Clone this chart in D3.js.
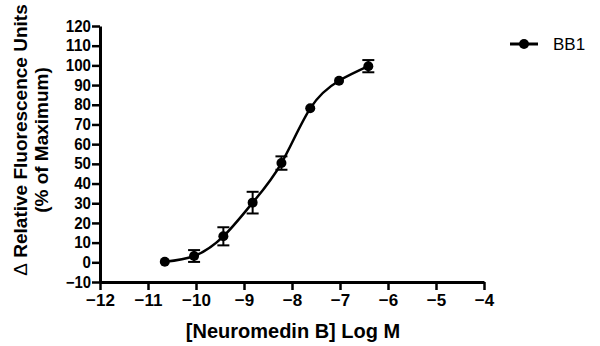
<!DOCTYPE html>
<html>
<head>
<meta charset="utf-8">
<script src="https://cdn.jsdelivr.net/npm/d3@7"></script>
<style>
  body { margin: 0; background: #fff; }
  svg { display: block; font-family: Arial, "Liberation Sans", sans-serif; }
</style>
</head>
<body>
<svg id="chart" width="600" height="346"></svg>
<script>
// concentrations (log M), mean response and SEM
const logDose = [-10.65, -10.04, -9.43, -8.82, -8.22, -7.62, -7.02, -6.41];
const response = [0.3, 3.2, 13.2, 30.3, 50.4, 78.2, 92.2, 99.6];
const sem = [0, 3.0, 4.6, 5.5, 3.4, 0, 0, 3.1];
const xTicks = [-12, -11, -10, -9, -8, -7, -6, -5, -4];
const yTicks = [-10, 0, 10, 20, 30, 40, 50, 60, 70, 80, 90, 100, 110, 120];
const seriesName = 'BB1';

const margin = { top: 26, left: 100 };
const width = 384, height = 256;

const svg = d3.select('#chart');
const g = svg.append('g').attr('transform', `translate(${margin.left},${margin.top})`);

const x = d3.scaleLinear().domain([-12, -4]).range([0, width]);
const y = d3.scaleLinear().domain([-10, 120]).range([height, 0]);

const styleAxis = (sel, size) => {
  sel.select('.domain').attr('stroke', '#000').attr('stroke-width', 3);
  sel.selectAll('.tick line').attr('stroke', '#000').attr('stroke-width', 2.5);
  sel.selectAll('.tick text')
    .attr('fill', '#000')
    .style('font-size', size)
    .style('font-weight', 'bold');
};

g.append('g')
  .attr('transform', `translate(0,${height})`)
  .call(d3.axisBottom(x).tickValues(xTicks).tickSize(8).tickSizeOuter(0).tickPadding(4))
  .call(styleAxis, '17px');

g.append('g')
  .call(d3.axisLeft(y).tickValues(yTicks).tickSize(8).tickSizeOuter(0).tickPadding(1))
  .call(styleAxis, '16px')
  .selectAll('.tick text').attr('textLength', d => String(d).length * 8.4).attr('lengthAdjust', 'spacingAndGlyphs');

// curve through the means
const pts = logDose.map((d, i) => ({ x: d, y: response[i], e: sem[i] }));
const line = d3.line()
  .x(d => x(d.x))
  .y(d => y(d.y))
  .curve(d3.curveNatural);

g.append('path')
  .datum(pts)
  .attr('d', line)
  .attr('fill', 'none')
  .attr('stroke', '#000')
  .attr('stroke-width', 2.5);

// error bars
const bars = g.append('g').selectAll('g')
  .data(pts.filter(d => d.e > 0))
  .join('g')
  .attr('stroke', '#000')
  .attr('stroke-width', 2);
bars.append('line')
  .attr('x1', d => x(d.x)).attr('x2', d => x(d.x))
  .attr('y1', d => y(d.y + d.e)).attr('y2', d => y(d.y - d.e));
bars.append('line')
  .attr('x1', d => x(d.x) - 6).attr('x2', d => x(d.x) + 6)
  .attr('y1', d => y(d.y + d.e)).attr('y2', d => y(d.y + d.e));
bars.append('line')
  .attr('x1', d => x(d.x) - 6).attr('x2', d => x(d.x) + 6)
  .attr('y1', d => y(d.y - d.e)).attr('y2', d => y(d.y - d.e));

g.append('g').selectAll('circle')
  .data(pts)
  .join('circle')
  .attr('cx', d => x(d.x))
  .attr('cy', d => y(d.y))
  .attr('r', 5)
  .attr('fill', '#000');

// axis titles
svg.append('text')
  .attr('x', 293)
  .attr('y', 338)
  .attr('text-anchor', 'middle')
  .style('font-size', '20px')
  .style('font-weight', 'bold')
  .text('[Neuromedin B] Log M');

const yTitle = svg.append('text')
  .attr('transform', 'translate(0,140) rotate(-90)')
  .attr('text-anchor', 'middle')
  .style('font-size', '19px')
  .style('font-weight', 'bold');
const first = yTitle.append('tspan').attr('x', 0).attr('y', 27);
first.append('tspan').style('font-weight', 'normal').text('\u0394');
first.append('tspan').text(' Relative Fluorescence Units');
yTitle.append('tspan').attr('x', 0).attr('y', 48).text('(% of Maximum)');

// legend
const lg = svg.append('g').attr('transform', 'translate(510,44)');
lg.append('line').attr('x1', 0).attr('x2', 28).attr('stroke', '#000').attr('stroke-width', 3);
lg.append('circle').attr('cx', 14).attr('r', 5).attr('fill', '#000');
lg.append('text').attr('x', 43).attr('y', 6).style('font-size', '17px').text(seriesName);
</script>
</body>
</html>
